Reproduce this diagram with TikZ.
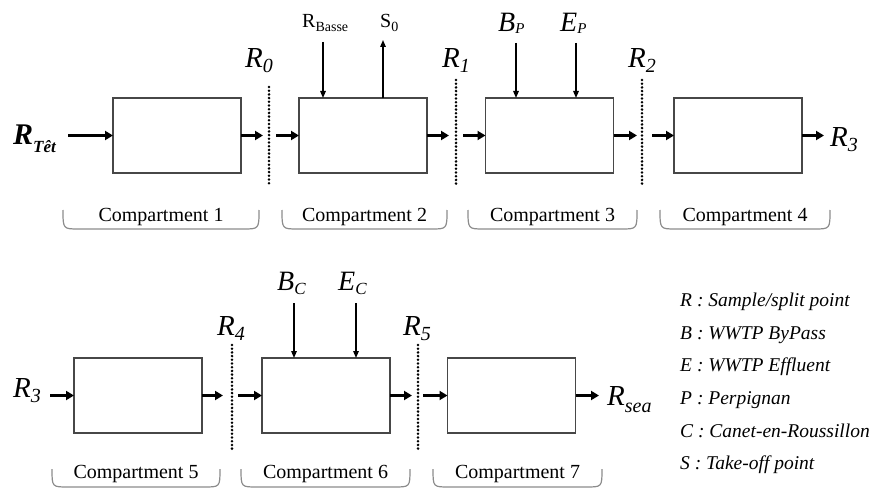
\documentclass[tikz,border=0pt]{standalone}
\usepackage{fontspec}
\setmainfont{Liberation Serif}
\usetikzlibrary{arrows.meta}
\newcommand\Lab[5]{\fontsize{#1}{#1}\selectfont #2\raisebox{-#5}{\fontsize{#4}{#4}\selectfont #3}}
\begin{document}
\begin{tikzpicture}[x=1pt,y=-1pt,
  box/.style={draw=black!72, line width=1.3pt, minimum width=128pt, minimum height=75pt, inner sep=0pt, outer sep=0pt},
  flow/.style={line width=3pt, -{Triangle[length=8pt,width=9pt]}},
  feed/.style={line width=1.4pt, -{Triangle[length=7pt,width=5.5pt]}},
  split/.style={line width=2.8pt, dash pattern=on 0pt off 3.7pt, line cap=round},
  brace/.style={draw=black!45, line width=1.2pt},
  comp/.style={font=\fontsize{20pt}{20pt}\selectfont, anchor=base, inner sep=0pt},
  lbl/.style={anchor=base west, inner sep=0pt, font=\itshape},
  lblup/.style={anchor=base west, inner sep=0pt},
  legend/.style={anchor=base west, inner sep=0pt, font=\fontsize{19.5pt}{19.5pt}\selectfont\itshape}]
\useasboundingbox (0,0) rectangle (880,489);
% boxes
\node[box] (b1) at (177,135.5) {};
\node[box] (b2) at (363,135.5) {};
\node[box] (b3) at (549.5,135.5) {};
\node[box] (b4) at (738,135.5) {};
\node[box] (b5) at (138,395.5) {};
\node[box] (b6) at (326,395.5) {};
\node[box] (b7) at (511.5,395.5) {};
% labels row 1
\node[lblup] (rtet) at (13,145) {\bfseries\itshape\Lab{30pt}{R}{Têt}{17pt}{8pt}};
\node[lbl] (r0) at (245,68) {\Lab{29pt}{R}{0}{20pt}{5pt}};
\node[lbl] (r1) at (442,68) {\Lab{29pt}{R}{1}{20pt}{5pt}};
\node[lbl] (r2) at (628,68) {\Lab{29pt}{R}{2}{20pt}{5pt}};
\node[lbl] (r3a) at (830,147) {\Lab{29pt}{R}{3}{20pt}{5pt}};
\node[lblup] (rb) at (302,28) {\Lab{20pt}{R}{Basse}{14pt}{4pt}};
\node[lblup] (s0) at (380,28) {\Lab{20pt}{S}{0}{14pt}{4pt}};
\node[lbl] (bp) at (498,32) {\Lab{28pt}{B}{P}{15pt}{2pt}};
\node[lbl] (ep) at (560,32) {\Lab{28pt}{E}{P}{15pt}{2pt}};
% labels row 2
\node[lbl] (r3b) at (13,397) {\Lab{29pt}{R}{3}{20pt}{5pt}};
\node[lbl] (r4) at (217,335) {\Lab{29pt}{R}{4}{20pt}{5pt}};
\node[lbl] (r5) at (403,335) {\Lab{29pt}{R}{5}{20pt}{5pt}};
\node[lbl] (bc) at (277,290) {\Lab{28pt}{B}{C}{17pt}{4pt}};
\node[lbl] (ec) at (338,290) {\Lab{28pt}{E}{C}{17pt}{4pt}};
\node[lbl] (rsea) at (607,405) {\Lab{29pt}{R}{sea}{20pt}{7pt}};
% coordinates
\coordinate (a0s) at (68,135.5);
\coordinate (a1e) at (263,135.5);
\coordinate (a2s) at (276,135.5);
\coordinate (a3e) at (449,135.5);
\coordinate (a4s) at (463,135.5);
\coordinate (a5e) at (637,135.5);
\coordinate (a6s) at (652,135.5);
\coordinate (a7e) at (824,135.5);
\coordinate (c0s) at (50,395.5);
\coordinate (c1e) at (223,395.5);
\coordinate (c2s) at (238,395.5);
\coordinate (c3e) at (412,395.5);
\coordinate (c4s) at (423,395.5);
\coordinate (c5e) at (599,395.5);
% flow arrows
\draw[flow] (a0s) -- (b1.west);
\draw[flow] (b1.east) -- (a1e);
\draw[flow] (a2s) -- (b2.west);
\draw[flow] (b2.east) -- (a3e);
\draw[flow] (a4s) -- (b3.west);
\draw[flow] (b3.east) -- (a5e);
\draw[flow] (a6s) -- (b4.west);
\draw[flow] (b4.east) -- (a7e);
\draw[flow] (c0s) -- (b5.west);
\draw[flow] (b5.east) -- (c1e);
\draw[flow] (c2s) -- (b6.west);
\draw[flow] (b6.east) -- (c3e);
\draw[flow] (c4s) -- (b7.west);
\draw[flow] (b7.east) -- (c5e);
% split points
\coordinate (d0t) at (269,87);  \coordinate (d0b) at (269,184);
\coordinate (d1t) at (456,80);  \coordinate (d1b) at (456,184);
\coordinate (d2t) at (642,80);  \coordinate (d2b) at (642,184);
\coordinate (d4t) at (232,345); \coordinate (d4b) at (232,450);
\coordinate (d5t) at (418,345); \coordinate (d5b) at (418,450);
\draw[split] (d0t) -- (d0b);
\draw[split] (d1t) -- (d1b);
\draw[split] (d2t) -- (d2b);
\draw[split] (d4t) -- (d4b);
\draw[split] (d5t) -- (d5b);
% feeds
\coordinate (frb) at (323,42);
\coordinate (fs0) at (383,40);
\coordinate (fbp) at (516,43);
\coordinate (fep) at (576,43);
\coordinate (fbc) at (294,303);
\coordinate (fec) at (356,303);
\draw[feed] (frb) -- (frb |- b2.north);
\draw[feed] (fs0 |- b2.north) -- (fs0);
\draw[feed] (fbp) -- (fbp |- b3.north);
\draw[feed] (fep) -- (fep |- b3.north);
\draw[feed] (fbc) -- (fbc |- b6.north);
\draw[feed] (fec) -- (fec |- b6.north);
% compartment brackets
\foreach \l/\r/\n in {63/259/1, 282/447/2, 468/637/3, 660/830/4}{
  \draw[brace] (\l,210) .. controls (\l,229) .. (\l+16,229) -- (\r-16,229) .. controls (\r,229) .. (\r,210);
  \node[comp] (comp\n) at ({(\l+\r)/2},221) {Compartment \n};
}
\foreach \l/\r/\n in {52/220/5, 241/410/6, 433/602/7}{
  \draw[brace] (\l,469) .. controls (\l,487) .. (\l+16,487) -- (\r-16,487) .. controls (\r,487) .. (\r,469);
  \node[comp] (comp\n) at ({(\l+\r)/2},478) {Compartment \n};
}
% legend
\node[legend] (lg1) at (680,306) {R : Sample/split point};
\node[legend] (lg2) at (680,339) {B : WWTP ByPass};
\node[legend] (lg3) at (680,371) {E : WWTP Effluent};
\node[legend] (lg4) at (680,404) {P : Perpignan};
\node[legend] (lg5) at (680,437) {C : Canet-en-Roussillon};
\node[legend] (lg6) at (680,469) {S : Take-off point};
\end{tikzpicture}
\end{document}
